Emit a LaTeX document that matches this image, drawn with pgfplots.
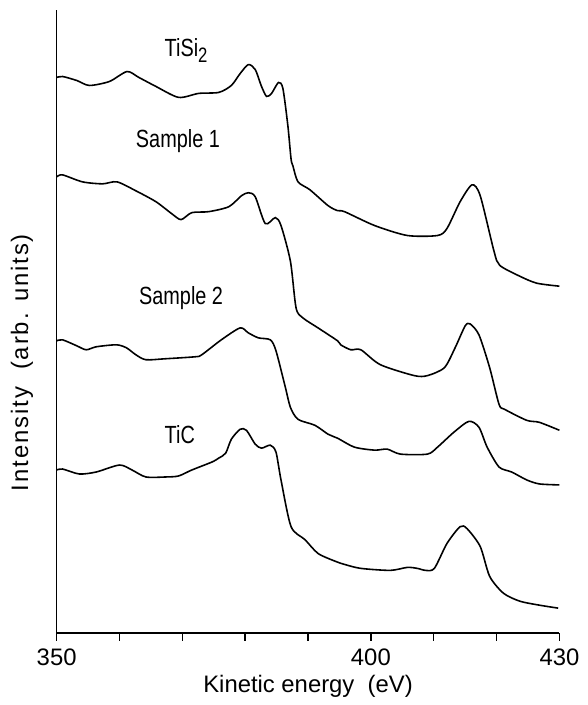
\documentclass[border=0pt]{standalone}
\usepackage{fontspec}
\setmainfont{Liberation Sans}
\newfontfamily\narrowfont[FakeStretch=0.8]{Liberation Sans}
\usepackage{pgfplots}
\pgfplotsset{compat=1.18}
\begin{document}
\fontsize{12}{14}\selectfont
\begin{tikzpicture}
\begin{axis}[
  name=ax,
  scale only axis,
  width=253pt, height=313.5pt,
  xmin=350, xmax=430, ymin=0, ymax=627,
  axis x line*=bottom, axis y line*=left,
  axis line style={line width=0.8pt},
  xtick={350,360,...,430},
  xticklabels={350,,,,,400,,,430},
  ytick=\empty,
  tick align=outside,
  major tick length=4pt,
  tick style={line width=0.7pt, black},
  /pgf/number format/assume math mode=true,
  ticklabel style={font=\fontsize{12}{14}\selectfont},
  xlabel={Kinetic energy\ \ (eV)},
  xlabel style={font=\fontsize{12}{14}\selectfont, at={(axis description cs:0.5,-0.085)}, anchor=center},
  ylabel={Intensity\ \ (arb. units)},
  ylabel style={font=\fontsize{12}{14}\selectfont\addfontfeature{LetterSpace=8}, at={(axis description cs:-0.069,0.434)}, anchor=center},
  clip=false,
]
% TiSi2
\addplot[black, no marks, line width=0.8pt, smooth, tension=0.45] coordinates {
(350,559) (350.95,560) (353.2,556) (355.2,551) (358.4,555) (361.2,565) (363.1,559)
(365.8,550) (369.4,539) (372.6,543) (375.8,544) (377.8,551) (379.2,563) (380.5,572)
(381.6,567) (382.6,550) (383.4,540) (384.2,543) (385.3,554) (386.0,548) (386.8,510)
(387.3,477) (387.6,470) (388.4,454) (390.3,446) (393.2,430) (394.7,425) (395.8,424)
(400.6,410) (405.8,400) (410.6,400) (412.1,407) (414.2,434) (416.1,451) (417.4,440)
(419.6,384) (420.5,370) (423.7,359) (426.4,352) (430.0,349)
};
% Sample 1
\addplot[black, no marks, line width=0.8pt, smooth, tension=0.45] coordinates {
(350,459) (350.95,461) (354.1,454) (357.3,452) (359.6,454) (362.6,445) (365.8,434)
(368.3,422) (369.8,416) (371.5,423) (374.2,424) (377.4,429) (379.4,440) (380.5,443)
(381.6,439) (383.2,412) (384.8,418) (385.7,410) (387.2,374) (388.1,327) (389.2,317)
(391.6,307) (394.7,294) (395.2,290) (396.8,285) (398.4,285) (401.5,270) (406.9,259)
(409.0,259) (411.7,267) (413.4,287) (415.0,309) (415.8,311) (417.2,300) (418.9,267)
(420.4,230) (421.3,225) (424.8,214) (426.8,212) (430,204)
};
% Sample 2
\addplot[black, no marks, line width=0.8pt, smooth, tension=0.45] coordinates {
(350,294) (350.95,295) (353.2,289) (354.7,285) (356.3,288) (359.5,290) (361.1,287)
(362.6,280) (364.2,275) (367.4,276) (372.1,278) (373.1,280) (376.2,295) (379.2,307)
(380.5,302) (382.1,297) (384.0,295) (384.9,284) (386.4,247) (387.2,227) (388.4,215)
(391.1,209) (393.2,200) (394.7,196) (397.4,187) (400.6,184) (402.6,185) (404.7,180)
(409.0,180) (410.6,187) (413.2,202) (415.6,213) (417.2,207) (418.5,187) (420.4,167)
(422.4,162) (424.8,154) (426.8,150) (430,149)
};
% TiC
\addplot[black, no marks, line width=0.8pt, smooth, tension=0.45] coordinates {
(350,164) (350.95,165) (353.6,160) (356.3,162) (360.0,169) (362.0,164) (364.2,157)
(367.4,157) (369.4,158) (371.5,164) (374.7,172) (375.8,176) (376.9,181) (377.8,195)
(379.2,205) (380.2,204) (381.6,190) (382.6,186) (384.0,189) (384.9,182) (385.7,154)
(387.3,107) (389.5,94) (391.6,80) (394.4,72) (395.8,69) (398.4,65) (403.1,63)
(405.8,66) (407.4,65) (408.7,63) (410.1,65) (412.1,90) (414.2,107) (415.3,105)
(417.4,87) (418.9,57) (421.1,40) (423.7,32) (426.8,28) (429.8,25)
};
\node[font=\narrowfont\fontsize{12.5}{14}\selectfont] at (axis cs:370.6,586) {TiSi\raisebox{-0.45ex}{\fontsize{10.5}{12}\selectfont 2}};
\node[font=\narrowfont\fontsize{12.5}{14}\selectfont] at (axis cs:369.3,495) {Sample 1};
\node[font=\narrowfont\fontsize{12.5}{14}\selectfont] at (axis cs:369.8,337) {Sample 2};
\node[font=\narrowfont\fontsize{12.5}{14}\selectfont] at (axis cs:369.6,200) {TiC};
\end{axis}
\path (ax.south west) ++(-28.5pt,-34pt);
\path (ax.north east) ++(10.5pt,5pt);
\end{tikzpicture}
\end{document}
